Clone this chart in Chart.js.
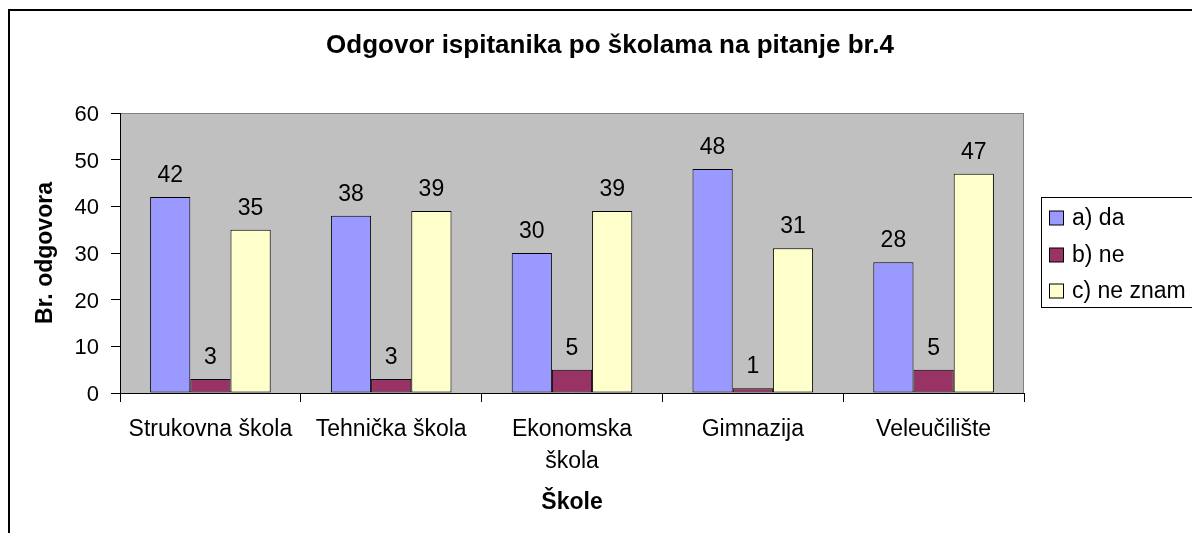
<!DOCTYPE html>
<html lang="hr">
<head>
<meta charset="utf-8">
<title>Odgovor ispitanika po školama na pitanje br.4</title>
<script src="https://cdn.jsdelivr.net/npm/chart.js@4.4.1/dist/chart.umd.min.js"></script>
<style>
  html, body { margin: 0; padding: 0; background: #fff; overflow: hidden; }
  canvas { display: block; }
</style>
</head>
<body>
<canvas id="schoolChart" width="1192" height="533"></canvas>
<script>
// Data
const schools = ['Strukovna škola', 'Tehnička škola', ['Ekonomska', 'škola'], 'Gimnazija', 'Veleučilište'];
const answerDa = [42, 38, 30, 48, 28];
const answerNe = [3, 3, 5, 1, 5];
const answerNeZnam = [35, 39, 39, 31, 47];
const yTicks = [0, 10, 20, 30, 40, 50, 60];

const chartTitle = 'Odgovor ispitanika po školama na pitanje br.4';
const FONT = "'Liberation Sans', Arial, sans-serif";

// Background, plot area, title, legend and outer frame
const framePlugin = {
    id: 'frame',
    beforeDraw(chart) {
        const ctx = chart.ctx;
        const a = chart.chartArea;
        ctx.save();
        ctx.fillStyle = '#ffffff';
        ctx.fillRect(0, 0, chart.width, chart.height);
        ctx.fillStyle = '#c0c0c0';
        ctx.fillRect(a.left, a.top, a.right - a.left, a.bottom - a.top);
        ctx.strokeStyle = '#808080';
        ctx.lineWidth = 1;
        ctx.strokeRect(a.left + 0.5, a.top + 0.5, a.right - a.left - 1, a.bottom - a.top);
        ctx.restore();
    },
    afterDraw(chart) {
        const ctx = chart.ctx;
        ctx.save();

        // Title
        ctx.fillStyle = '#000';
        ctx.font = 'bold 26px ' + FONT;
        ctx.textAlign = 'center';
        ctx.textBaseline = 'alphabetic';
        ctx.fillText(chartTitle, 610, 53);

        // Legend box
        ctx.fillStyle = '#fff';
        ctx.fillRect(1041.5, 197.5, 200, 110);
        ctx.strokeStyle = '#000';
        ctx.lineWidth = 1;
        ctx.strokeRect(1041.5, 197.5, 200, 110);

        ctx.font = '23px ' + FONT;
        ctx.textAlign = 'left';
        ctx.textBaseline = 'middle';
        chart.data.datasets.forEach((ds, i) => {
            const cy = Math.round(218 + i * 36.7);
            ctx.fillStyle = ds.backgroundColor;
            ctx.fillRect(1049.5, cy - 7, 14, 14);
            ctx.strokeRect(1049.5, cy - 7, 14, 14);
            ctx.fillStyle = '#000';
            ctx.fillText(ds.label, 1072, cy + 1);
        });

        // Outer frame (right and bottom edges lie outside the picture)
        ctx.lineWidth = 2;
        ctx.strokeRect(9, 10, 1300, 600);
        ctx.restore();
    }
};

// Value labels above each bar
const valueLabels = {
    id: 'valueLabels',
    afterDatasetsDraw(chart) {
        const ctx = chart.ctx;
        ctx.save();
        ctx.font = '23px ' + FONT;
        ctx.fillStyle = '#000';
        ctx.textAlign = 'center';
        ctx.textBaseline = 'alphabetic';
        chart.data.datasets.forEach((ds, i) => {
            const meta = chart.getDatasetMeta(i);
            meta.data.forEach((bar, j) => {
                ctx.fillText(String(ds.data[j]), bar.x, bar.y - 15);
            });
        });
        ctx.restore();
    }
};

const barStyle = {
    borderColor: '#000000',
    borderWidth: 1,
    borderSkipped: false,
    categoryPercentage: 0.667,
    barPercentage: 1.0
};

const ctx = document.getElementById('schoolChart').getContext('2d');
const schoolChart = new Chart(ctx, {
    type: 'bar',
    data: {
        labels: schools,
        datasets: [
            Object.assign({ label: 'a) da', data: answerDa, backgroundColor: '#9999ff' }, barStyle),
            Object.assign({ label: 'b) ne', data: answerNe, backgroundColor: '#993366' }, barStyle),
            Object.assign({ label: 'c) ne znam', data: answerNeZnam, backgroundColor: '#ffffcc' }, barStyle)
        ]
    },
    options: {
        responsive: false,
        animation: false,
        devicePixelRatio: 1,
        layout: {
            padding: { top: 113, left: 20, right: 168, bottom: 0 }
        },
        plugins: {
            legend: { display: false },
            title: { display: false },
            tooltip: { enabled: false }
        },
        scales: {
            x: {
                afterFit(scale) { scale.height = 140; },
                grid: {
                    offset: true,
                    drawOnChartArea: false,
                    drawTicks: true,
                    tickLength: 9,
                    color: '#000'
                },
                border: { color: '#000', width: 1 },
                ticks: {
                    color: '#000',
                    padding: 12,
                    maxRotation: 0,
                    autoSkip: false,
                    font: { family: FONT, size: 23, lineHeight: 1.37 }
                },
                title: {
                    display: true,
                    text: 'Škole',
                    color: '#000',
                    padding: { top: 0, bottom: 17 },
                    font: { family: FONT, size: 23, weight: 'bold', lineHeight: 1.2 }
                }
            },
            y: {
                min: yTicks[0],
                max: yTicks[yTicks.length - 1],
                afterFit(scale) { scale.width = 100; },
                afterBuildTicks(scale) {
                    scale.ticks = yTicks.map(v => ({ value: v }));
                },
                grid: {
                    drawOnChartArea: false,
                    drawTicks: true,
                    tickLength: 9,
                    color: '#000'
                },
                border: { color: '#000', width: 1 },
                ticks: {
                    color: '#000',
                    padding: 12,
                    labelOffset: 2,
                    font: { family: FONT, size: 22 }
                },
                title: {
                    display: true,
                    text: 'Br. odgovora',
                    color: '#000',
                    padding: { top: 12, bottom: 0 },
                    font: { family: FONT, size: 23, weight: 'bold', lineHeight: 1.2 }
                }
            }
        }
    },
    plugins: [framePlugin, valueLabels]
});
</script>
</body>
</html>
